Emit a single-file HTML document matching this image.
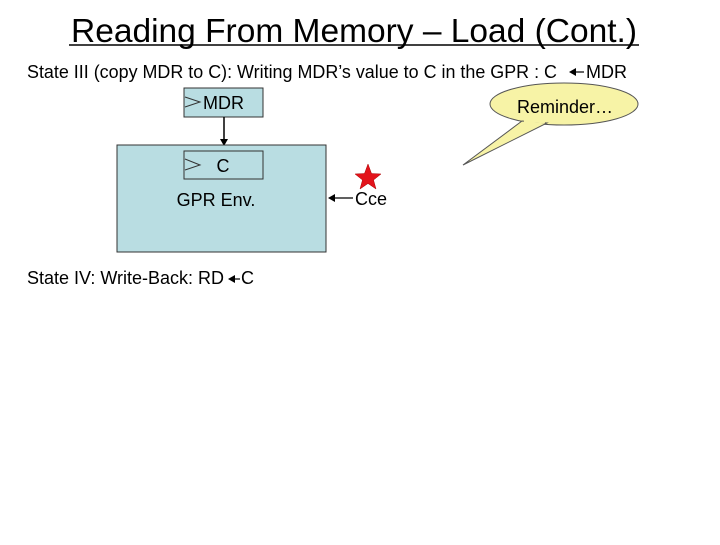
<!DOCTYPE html>
<html><head><style>
body{margin:0;width:720px;height:540px;background:#fff;overflow:hidden;font-family:"Liberation Sans",sans-serif;}
svg text{font-family:"Liberation Sans",Arial,sans-serif;}
</style></head><body>
<svg width="720" height="540" xmlns="http://www.w3.org/2000/svg">
<text x="354" y="42" font-size="33.5" text-anchor="middle" textLength="566" lengthAdjust="spacingAndGlyphs">Reading From Memory – Load (Cont.)</text>
<line x1="69" y1="45" x2="639" y2="45" stroke="#000" stroke-width="1.5"/>
<text x="27" y="78" font-size="18" textLength="530" lengthAdjust="spacingAndGlyphs">State III (copy MDR to C): Writing MDR’s value to C in the GPR : C</text>
<line x1="584" y1="72" x2="572" y2="72" stroke="#000" stroke-width="1.2"/>
<polygon points="569,72 576,68 576,76" fill="#000"/>
<text x="586" y="78" font-size="18">MDR</text>
<rect x="184" y="88" width="79" height="29" fill="#b9dde2" stroke="#333" stroke-width="1"/>
<polyline points="185,97 200,102 185,107" fill="none" stroke="#333" stroke-width="1"/>
<text x="203" y="109" font-size="18">MDR</text>
<line x1="224" y1="117" x2="224" y2="141" stroke="#000" stroke-width="1.5"/>
<polygon points="224,146 220,139 228,139" fill="#000"/>
<rect x="117" y="145" width="209" height="107" fill="#b9dde2" stroke="#333" stroke-width="1"/>
<rect x="184" y="151" width="79" height="28" fill="#b9dde2" stroke="#333" stroke-width="1"/>
<polyline points="185,159 200,165 185,170" fill="none" stroke="#333" stroke-width="1"/>
<text x="223" y="172" font-size="18" text-anchor="middle">C</text>
<text x="216" y="206" font-size="18" text-anchor="middle">GPR Env.</text>
<line x1="353" y1="198" x2="333" y2="198" stroke="#000" stroke-width="1.2"/>
<polygon points="328,198 335,194 335,202" fill="#000"/>
<text x="355" y="205" font-size="18">Cce</text>
<polygon points="368,164 371.5,173.5 381,174 373.5,180 376,189 368,183.5 360,189 362.5,180 355,174 364.5,173.5" fill="#e3141b" stroke="#a00" stroke-width="0.5"/>
<text x="27" y="284" font-size="18">State IV: Write-Back: RD</text>
<line x1="240" y1="279" x2="232" y2="279" stroke="#000" stroke-width="1.2"/>
<polygon points="228,279 235,275 235,283" fill="#000"/>
<text x="241" y="284" font-size="18">C</text>
<ellipse cx="564" cy="104" rx="74" ry="21" fill="#f7f3a6" stroke="#555" stroke-width="1"/>
<polygon points="522,121 463,165 547,123" fill="#f7f3a6" stroke="#555" stroke-width="1"/>
<line x1="524" y1="121" x2="545" y2="122" stroke="#f7f3a6" stroke-width="2.5"/>
<text x="565" y="113" font-size="18" text-anchor="middle">Reminder…</text>
</svg>
</body></html>
